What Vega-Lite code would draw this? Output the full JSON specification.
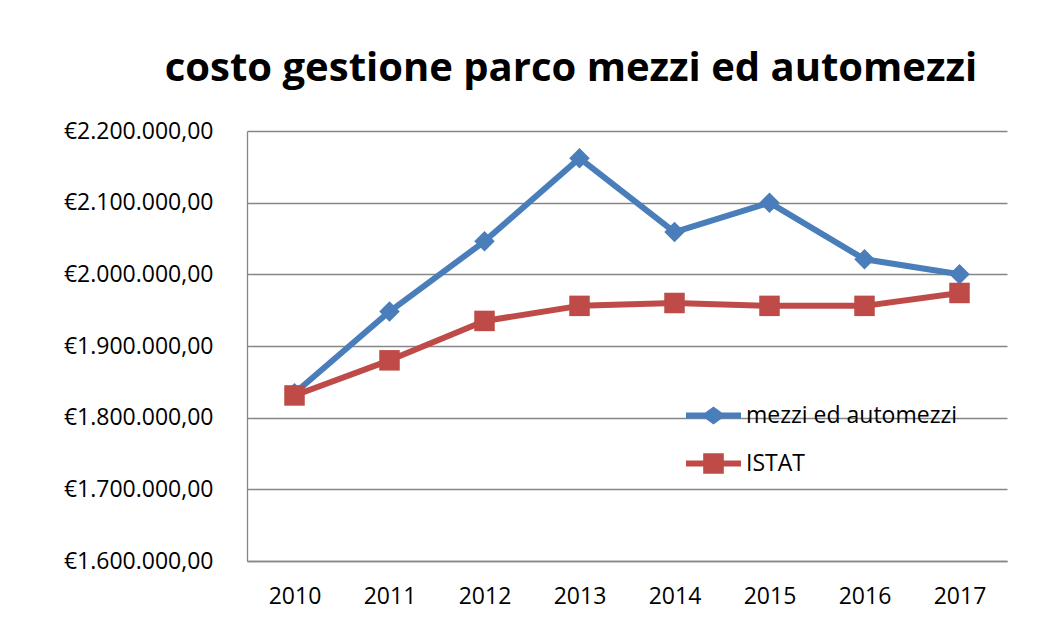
{
  "$schema": "https://vega.github.io/schema/vega-lite/v6.json",
  "width": 760,
  "height": 430,
  "autosize": {"type": "none"},
  "padding": {"left": 247, "top": 131, "right": 51, "bottom": 65},
  "background": "white",
  "config": {
    "locale": {"number": {"decimal": ",", "thousands": ".", "grouping": [3], "currency": ["€", ""]}},
    "view": {"stroke": null},
    "font": "Open Sans"
  },
  "title": {
    "text": "costo gestione parco mezzi ed automezzi",
    "font": "Open Sans",
    "fontSize": 40,
    "fontWeight": "bold",
    "color": "black",
    "anchor": "middle",
    "dx": -56,
    "offset": 49,
    "dy": 50,
    "baseline": "alphabetic"
  },
  "data": {
    "values": [
      {"anno": "2010", "serie": "mezzi ed automezzi", "costo": 1834000},
      {"anno": "2011", "serie": "mezzi ed automezzi", "costo": 1948000},
      {"anno": "2012", "serie": "mezzi ed automezzi", "costo": 2046000},
      {"anno": "2013", "serie": "mezzi ed automezzi", "costo": 2162000},
      {"anno": "2014", "serie": "mezzi ed automezzi", "costo": 2059000},
      {"anno": "2015", "serie": "mezzi ed automezzi", "costo": 2100000},
      {"anno": "2016", "serie": "mezzi ed automezzi", "costo": 2021000},
      {"anno": "2017", "serie": "mezzi ed automezzi", "costo": 2000000},
      {"anno": "2010", "serie": "ISTAT", "costo": 1831000},
      {"anno": "2011", "serie": "ISTAT", "costo": 1880000},
      {"anno": "2012", "serie": "ISTAT", "costo": 1935000},
      {"anno": "2013", "serie": "ISTAT", "costo": 1956000},
      {"anno": "2014", "serie": "ISTAT", "costo": 1960000},
      {"anno": "2015", "serie": "ISTAT", "costo": 1956000},
      {"anno": "2016", "serie": "ISTAT", "costo": 1956000},
      {"anno": "2017", "serie": "ISTAT", "costo": 1974000}
    ]
  },
  "encoding": {
    "x": {
      "field": "anno",
      "type": "ordinal",
      "scale": {"type": "point", "padding": 0.5},
      "axis": {
        "title": null,
        "labelAngle": 0,
        "labelFontSize": 23,
        "labelColor": "black",
        "ticks": false,
        "tickSize": 0,
        "labelPadding": 24,
        "domainColor": "#868686",
        "domainWidth": 1.3,
        "grid": false
      }
    },
    "y": {
      "field": "costo",
      "type": "quantitative",
      "scale": {"domain": [1600000, 2200000], "zero": false, "nice": false},
      "axis": {
        "title": null,
        "values": [1600000, 1700000, 1800000, 1900000, 2000000, 2100000, 2200000],
        "format": "$,.2f",
        "labelFontSize": 23,
        "labelColor": "black",
        "ticks": false,
        "tickSize": 0,
        "labelPadding": 34,
        "gridColor": "#868686",
        "gridWidth": 1.3,
        "domainColor": "#868686",
        "domainWidth": 1.3
      }
    },
    "color": {
      "field": "serie",
      "type": "nominal",
      "scale": {"domain": ["mezzi ed automezzi", "ISTAT"], "range": ["#4A7EBB", "#BE4B48"]},
      "legend": {
        "title": null,
        "orient": "none",
        "legendX": 439,
        "legendY": 257,
        "padding": 0,
        "symbolSize": 3025,
        "symbolStrokeWidth": 0,
        "labelFontSize": 23,
        "labelColor": "black",
        "labelOffset": 5,
        "labelLimit": 400,
        "rowPadding": 8,
        "encoding": {
          "symbols": {
            "shape": {"value": {"expr": "datum.value === 'ISTAT' ? 'M-1,-0.11L-0.375,-0.11L-0.375,-0.375L0.375,-0.375L0.375,-0.11L1,-0.11L1,0.11L0.375,0.11L0.375,0.375L-0.375,0.375L-0.375,0.11L-1,0.11Z' : 'M-1,-0.11L-0.3,-0.11L0,-0.33L0.3,-0.11L1,-0.11L1,0.11L0.3,0.11L0,0.33L-0.3,0.11L-1,0.11Z'"}},
            "fill": {"value": {"expr": "scale('color', datum.value)"}},
            "opacity": {"value": 1}
          }
        }
      }
    }
  },
  "layer": [
    {"mark": {"type": "line", "strokeWidth": 6, "strokeJoin": "round"}},
    {
      "transform": [{"filter": "datum.serie === 'mezzi ed automezzi'"}],
      "mark": {"type": "point", "filled": true, "opacity": 1, "size": 420, "shape": "diamond"}
    },
    {
      "transform": [{"filter": "datum.serie === 'ISTAT'"}],
      "mark": {"type": "point", "filled": true, "opacity": 1, "size": 420, "shape": "square"}
    }
  ]
}
